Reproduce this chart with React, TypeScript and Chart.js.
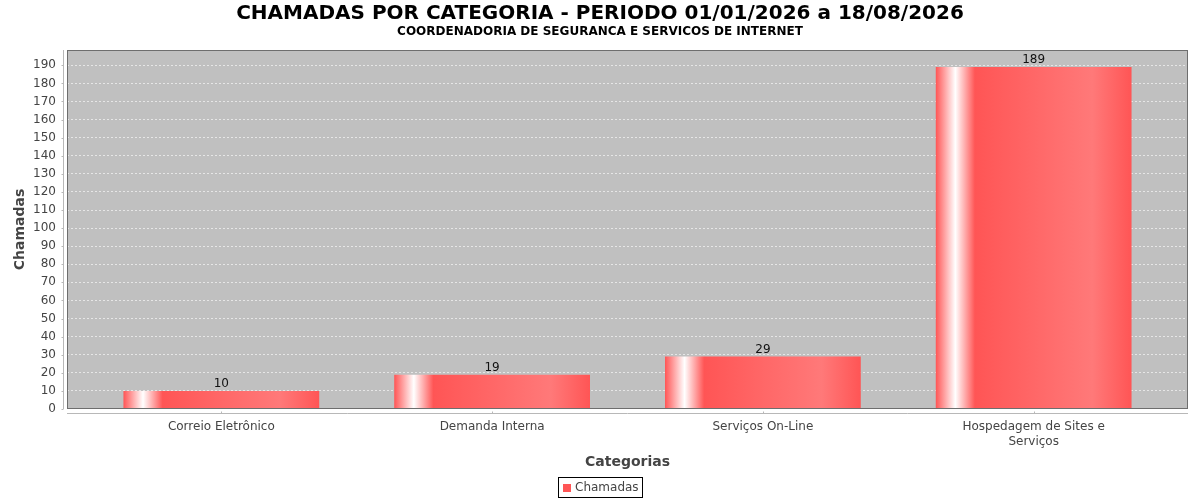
import React, { useEffect, useRef } from 'react';
import { Chart, registerables } from 'chart.js';

Chart.register(...registerables);

const TITLE = 'CHAMADAS POR CATEGORIA - PERIODO 01/01/2026 a 18/08/2026';
const SUBTITLE = 'COORDENADORIA DE SEGURANCA E SERVICOS DE INTERNET';
const categories = ['Correio Eletrônico', 'Demanda Interna', 'Serviços On-Line', 'Hospedagem de Sites e Serviços'];
const chamadas = [10, 19, 29, 189];
const seriesLabel = 'Chamadas';
const yTicks = [0, 10, 20, 30, 40, 50, 60, 70, 80, 90, 100, 110, 120, 130, 140, 150, 160, 170, 180, 190];
const xAxisTitle = 'Categorias';
const yAxisTitle = 'Chamadas';

const FONT = 'DejaVu Sans';
const BASE_RED = '#ff5555';
const LIGHT_RED = '#ff7979';

function wrapLabel(text: string, maxChars: number): string | string[] {
  const words = text.split(' ');
  const lines: string[] = [];
  let cur = '';
  for (const w of words) {
    const next = cur ? cur + ' ' + w : w;
    if (next.length > maxChars && cur) {
      lines.push(cur);
      cur = w;
    } else {
      cur = next;
    }
  }
  if (cur) lines.push(cur);
  return lines.length === 1 ? lines[0] : lines;
}

const plotBackground = {
  id: 'plotBackground',
  beforeDraw(chart: any) {
    const { ctx, chartArea: a } = chart;
    ctx.save();
    ctx.fillStyle = '#c0c0c0';
    ctx.fillRect(a.left, a.top, a.right - a.left, a.bottom - a.top);
    ctx.restore();
  },
};

const gradientBars = {
  id: 'gradientBars',
  beforeDatasetsDraw(chart: any) {
    const { ctx } = chart;
    chart.data.datasets.forEach((_: any, di: number) => {
      const meta = chart.getDatasetMeta(di);
      meta.data.forEach((el: any) => {
        const x0 = el.x - el.width / 2;
        const x1 = el.x + el.width / 2;
        const g = ctx.createLinearGradient(x0, 0, x1, 0);
        g.addColorStop(0, BASE_RED);
        g.addColorStop(0.1, '#ffffff');
        g.addColorStop(0.2, BASE_RED);
        g.addColorStop(0.8, LIGHT_RED);
        g.addColorStop(1, BASE_RED);
        el.options = { ...el.options, backgroundColor: g };
      });
    });
  },
};

const valueLabels = {
  id: 'valueLabels',
  afterDatasetsDraw(chart: any) {
    const { ctx } = chart;
    ctx.save();
    ctx.font = `12px "${FONT}"`;
    ctx.fillStyle = '#111111';
    ctx.textAlign = 'center';
    ctx.textBaseline = 'alphabetic';
    chart.data.datasets.forEach((ds: any, di: number) => {
      const meta = chart.getDatasetMeta(di);
      meta.data.forEach((el: any, i: number) => {
        ctx.fillText(String(ds.data[i].y), el.x, el.y - 4);
      });
    });
    ctx.restore();
  },
};

const axesAndOutline = {
  id: 'axesAndOutline',
  afterDraw(chart: any) {
    const { ctx, chartArea: a, scales } = chart;
    ctx.save();
    ctx.lineWidth = 1;
    // plot outline
    ctx.strokeStyle = '#6e6e6e';
    ctx.strokeRect(a.left + 0.5, a.top + 0.5, a.right - a.left - 1, a.bottom - a.top - 1);
    // y axis line + ticks
    ctx.strokeStyle = '#b8b8b8';
    const yx = a.left - 3.5;
    ctx.beginPath();
    ctx.moveTo(yx, a.top);
    ctx.lineTo(yx, a.bottom);
    scales.y.ticks.forEach((t: any) => {
      const py = Math.round(scales.y.getPixelForValue(t.value)) + 0.5;
      ctx.moveTo(yx - 2, py);
      ctx.lineTo(yx, py);
    });
    // x axis line + ticks
    const xy = a.bottom + 4.5;
    ctx.moveTo(a.left, xy);
    ctx.lineTo(a.right, xy);
    scales.x.ticks.forEach((t: any) => {
      const px = Math.round(scales.x.getPixelForValue(t.value)) + 0.5;
      ctx.moveTo(px, xy - 2);
      ctx.lineTo(px, xy);
    });
    ctx.stroke();

    // legend
    const ds = chart.data.datasets[0];
    ctx.font = `12px "${FONT}"`;
    const tw = ctx.measureText(ds.label).width;
    const boxW = 5 + 8 + 4 + tw + 3;
    const boxH = 20;
    const cx = chart.width / 2;
    const cy = chart.height - 13;
    const bx = Math.round(cx - boxW / 2);
    const by = Math.round(cy - boxH / 2);
    ctx.strokeStyle = '#000000';
    ctx.strokeRect(bx + 0.5, by + 0.5, Math.round(boxW), boxH);
    ctx.fillStyle = BASE_RED;
    ctx.fillRect(bx + 5, by + 7, 8, 8);
    ctx.fillStyle = '#444444';
    ctx.textAlign = 'left';
    ctx.textBaseline = 'middle';
    ctx.fillText(ds.label, bx + 17, by + boxH / 2 + 1);
    ctx.restore();
  },
};

export default function App() {
  const canvasRef = useRef<HTMLCanvasElement | null>(null);

  useEffect(() => {
    document.body.style.margin = '0';
    const canvas = canvasRef.current;
    if (!canvas) return;
    Chart.defaults.font.family = FONT;

    const chart = new Chart(canvas, {
      type: 'bar',
      data: {
        datasets: [
          {
            label: seriesLabel,
            data: chamadas.map((v, i) => ({ x: i, y: v })),
            backgroundColor: BASE_RED,
            borderWidth: 0,
            barPercentage: 0.723,
            categoryPercentage: 1,
          },
        ],
      },
      options: {
        responsive: false,
        animation: false,
        devicePixelRatio: 1,
        layout: { padding: { left: 12, right: 12, top: 0, bottom: 29 } },
        plugins: {
          legend: { display: false },
          tooltip: { enabled: false },
          title: {
            display: true,
            text: TITLE,
            color: '#000000',
            font: { family: FONT, size: 20, weight: 'bold' },
            padding: { top: 2, bottom: -1 },
          },
          subtitle: {
            display: true,
            text: SUBTITLE,
            color: '#000000',
            font: { family: FONT, size: 12, weight: 'bold' },
            padding: { top: 0, bottom: 10.6 },
          },
        },
        scales: {
          x: {
            type: 'linear',
            offset: false,
            min: -0.57,
            max: categories.length - 1 + 0.57,
            afterBuildTicks: (s: any) => {
              s.ticks = categories.map((_, i) => ({ value: i }));
            },
            afterFit: (s: any) => {
              s.height = 62;
            },
            grid: { display: false, drawTicks: false, offset: false },
            border: { display: false },
            ticks: {
              autoSkip: false,
              maxRotation: 0,
              minRotation: 0,
              padding: 11,
              color: '#444444',
              font: { family: FONT, size: 12 },
              callback: (v: any) => wrapLabel(categories[v] ?? '', 22),
            },
            title: {
              display: true,
              text: xAxisTitle,
              color: '#444444',
              font: { family: FONT, size: 14, weight: 'bold' },
              padding: { top: 0, bottom: 0 },
            },
          },
          y: {
            type: 'linear',
            min: 0,
            max: Math.max(...chamadas) * 1.05,
            afterBuildTicks: (s: any) => {
              s.ticks = yTicks.map((v) => ({ value: v }));
            },
            afterFit: (s: any) => {
              s.width = 55;
            },
            grid: { color: 'rgba(255,255,255,0.6)', drawTicks: false, lineWidth: 1 },
            border: { display: false, dash: [2, 2] },
            ticks: {
              padding: 11,
              color: '#444444',
              font: { family: FONT, size: 12 },
            },
            title: {
              display: true,
              text: yAxisTitle,
              color: '#444444',
              font: { family: FONT, size: 14, weight: 'bold' },
              padding: { top: 0, bottom: 0 },
            },
          },
        },
      },
      plugins: [plotBackground, gradientBars, valueLabels, axesAndOutline],
    } as any);

    return () => chart.destroy();
  }, []);

  return (
    <div style={{ width: 1200, height: 500 }}>
      <canvas ref={canvasRef} width={1200} height={500} />
    </div>
  );
}
